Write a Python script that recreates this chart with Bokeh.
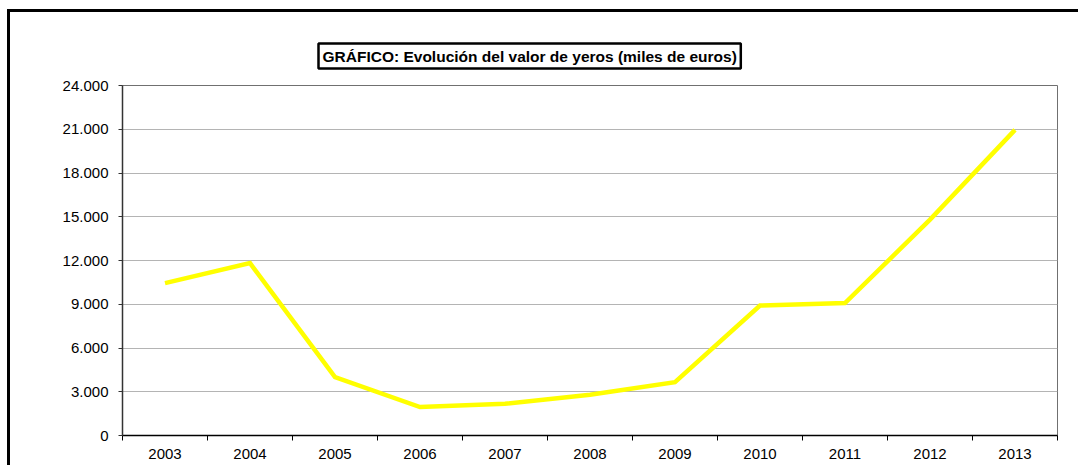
from bokeh.plotting import figure
from bokeh.models import FixedTicker, Range1d
from bokeh.embed import file_html
from bokeh.resources import INLINE

years = ["2003", "2004", "2005", "2006", "2007", "2008", "2009", "2010", "2011", "2012", "2013"]
values = [10450, 11820, 4000, 1950, 2170, 2800, 3660, 8910, 9080, 14800, 20960]
y_ticks = [0, 3000, 6000, 9000, 12000, 15000, 18000, 21000, 24000]
y_tick_labels = ["0", "3.000", "6.000", "9.000", "12.000", "15.000", "18.000", "21.000", "24.000"]
title_text = "GRÁFICO: Evolución del valor de yeros (miles de euros)"

FONT = "Liberation Sans"

p = figure(width=1071, height=456, output_backend="svg", toolbar_location=None,
           x_range=Range1d(0, len(years)), y_range=Range1d(0, 24000),
           min_border_left=112, min_border_right=24, min_border_top=73, min_border_bottom=33,
           styles={"margin-left": "7px", "margin-top": "9px",
                   "border-left": "3px solid black", "border-top": "3px solid black"})
p.background_fill_color = "white"
p.border_fill_color = "white"
p.outline_line_color = "#707070"
p.outline_line_width = 1

xs = [i + 0.5 for i in range(len(years))]
p.line(xs, values, line_color="#FFFF00", line_width=4.5, line_join="miter")

# x axis: labels at centers, tick marks at category boundaries
p.xaxis.ticker = FixedTicker(ticks=xs, minor_ticks=list(range(len(years) + 1)))
p.xaxis.major_label_overrides = {x: y for x, y in zip(xs, years)}
p.xaxis.major_tick_line_color = None
p.xaxis.minor_tick_in = 0
p.xaxis.minor_tick_out = 5
p.xaxis.minor_tick_line_color = "black"
p.xaxis.axis_line_color = "black"
p.xaxis.axis_line_width = 1.5
p.xaxis.major_label_standoff = 7
p.xgrid.visible = False

p.yaxis.ticker = FixedTicker(ticks=y_ticks)
p.yaxis.major_label_overrides = {t: l for t, l in zip(y_ticks, y_tick_labels)}
p.yaxis.major_tick_in = 0
p.yaxis.major_tick_out = 4
p.yaxis.minor_tick_line_color = None
p.yaxis.axis_line_color = "#333333"
p.yaxis.axis_line_width = 1.5
p.yaxis.major_tick_line_color = "#333333"
p.yaxis.major_label_standoff = 10
p.ygrid.grid_line_color = "#b4b4b4"
p.ygrid.grid_line_width = 1

for ax in (p.xaxis, p.yaxis):
    ax.major_label_text_font = FONT
    ax.major_label_text_font_size = "15px"
    ax.major_label_text_color = "black"

# boxed title
p.title.text = title_text
p.title.align = "left"
p.title.vertical_align = "top"
p.title.offset = 196
p.title.standoff = 30
p.title.text_font = FONT
p.title.text_font_size = "15.5px"
p.title.text_font_style = "bold"
p.title.text_color = "black"
p.title.border_line_color = "black"
p.title.border_line_width = 2.5
p.title.background_fill_color = "white"
p.title.padding = 4

open("out.html", "w").write(file_html(p, INLINE))
